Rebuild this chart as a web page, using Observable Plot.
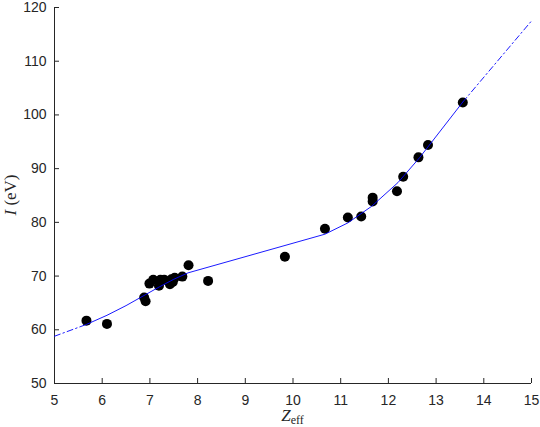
<!DOCTYPE html>
<html><head><meta charset="utf-8">
<script src="https://cdn.jsdelivr.net/npm/d3@7"></script>
<script src="https://cdn.jsdelivr.net/npm/@observablehq/plot@0.6"></script>
<style>body{margin:0;background:#fff}</style>
</head><body><div id="chart"></div>
<script>
// Measured points
const zEff = [5.67, 6.10, 6.88, 6.91, 6.99, 7.07, 7.19, 7.22, 7.30, 7.42, 7.45, 7.48, 7.52, 7.68, 7.81, 8.22, 9.83, 10.67, 11.15, 11.43, 11.67, 11.67, 12.18, 12.31, 12.63, 12.83, 13.56];
const iEv  = [61.7, 61.1, 66.0, 65.3, 68.6, 69.3, 68.2, 69.3, 69.3, 68.5, 69.4, 68.9, 69.7, 69.9, 72.0, 69.1, 73.6, 78.8, 80.9, 81.1, 84.6, 83.9, 85.8, 88.5, 92.1, 94.4, 102.3];
// Fitted curve
const fitZ = [5.0, 5.67, 6.10, 6.5, 6.9, 7.2, 7.5, 7.8, 10.67, 11.15, 11.65, 12.2, 12.65, 13.56, 15.0];
const fitI = [58.8, 61.0, 62.7, 64.5, 66.5, 68.0, 69.4, 70.6, 77.8, 79.9, 83.0, 87.4, 92.0, 102.4, 117.5];
// Axis ticks
const xTicks = [5, 6, 7, 8, 9, 10, 11, 12, 13, 14, 15];
const yTicks = [50, 60, 70, 80, 90, 100, 110, 120];

const points = zEff.map((z, i) => ({z, I: iEv[i]}));
const fit = fitZ.map((z, i) => ({z, I: fitI[i]}));
const zMin = d3.min(zEff), zMax = d3.max(zEff);
const pre = fit.filter(d => d.z <= zMin);
const main = fit.filter(d => d.z >= zMin && d.z <= zMax);
const post = fit.filter(d => d.z >= zMax);

const W = 540, H = 427, mL = 54, mR = 9, mT = 7, mB = 44;
const axisColor = "#262626";
const dashDot = "6,3,1.5,3";

const chart = Plot.plot({
  width: W, height: H,
  marginLeft: mL, marginRight: mR, marginTop: mT, marginBottom: mB,
  style: {fontFamily: "'Liberation Sans', Arial, sans-serif", fontSize: "14px", color: axisColor, background: "#fff", overflow: "visible"},
  x: {domain: [5, 15]},
  y: {domain: [50, 120]},
  marks: [
    Plot.axisX(xTicks, {tickSize: 0, tickPadding: 12, label: null, fontSize: 14}),
    Plot.axisY(yTicks, {tickSize: 0, tickPadding: 8, label: null, fontSize: 14}),
    Plot.tickX(xTicks, {x: d => d, insetTop: H - mT - mB - 5, stroke: axisColor, strokeWidth: 1}),
    Plot.tickY(yTicks, {y: d => d, insetRight: W - mL - mR - 5, stroke: axisColor, strokeWidth: 1}),
    Plot.ruleX([5], {stroke: axisColor, strokeWidth: 1}),
    Plot.ruleY([50], {stroke: axisColor, strokeWidth: 1}),
    Plot.dot(points, {x: "z", y: "I", r: 5, fill: "black", stroke: "none"}),
    Plot.line(pre, {x: "z", y: "I", stroke: "blue", strokeWidth: 0.9, strokeDasharray: dashDot}),
    Plot.line(main, {x: "z", y: "I", stroke: "blue", strokeWidth: 0.9}),
    Plot.line(post, {x: "z", y: "I", stroke: "blue", strokeWidth: 0.9, strokeDasharray: dashDot})
  ]
});
document.getElementById("chart").appendChild(chart);

const svg = d3.select(chart);
const serif = "'Liberation Serif', 'DejaVu Serif', serif";
// Y label
const yl = svg.append("text")
  .attr("transform", `translate(16,${(mT + H - mB) / 2}) rotate(-90)`)
  .attr("text-anchor", "middle")
  .attr("font-family", serif).attr("font-size", 17).attr("fill", axisColor);
yl.append("tspan").attr("font-style", "italic").text("I");
yl.append("tspan").text(" (eV)");
// X label
const xl = svg.append("text")
  .attr("x", (mL + W - mR) / 2).attr("y", 421)
  .attr("text-anchor", "middle")
  .attr("font-family", serif).attr("font-size", 17).attr("fill", axisColor);
xl.append("tspan").attr("font-style", "italic").text("Z");
xl.append("tspan").attr("font-size", 12).attr("dy", 3).text("eff");
</script>
</body></html>
